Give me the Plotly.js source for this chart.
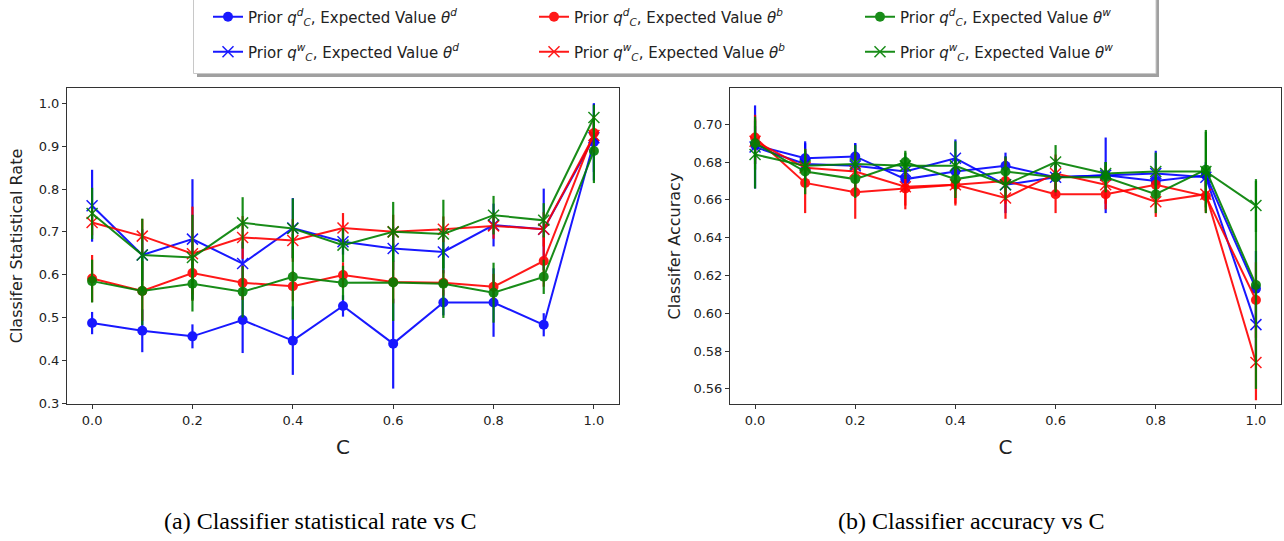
<!DOCTYPE html>
<html>
<head>
<meta charset="utf-8">
<script src="https://cdn.plot.ly/plotly-3.0.1.min.js"></script>
<style>
html,body{margin:0;padding:0;background:#fff;}
#chart{width:1284px;height:541px;}
</style>
</head>
<body>
<div id="chart"></div>
<script>
// ---------- data ----------
const cValues = [0.0, 0.1, 0.2, 0.3, 0.4, 0.5, 0.6, 0.7, 0.8, 0.9, 1.0];

// (a) Classifier statistical rate
const rateBlueDot   = [0.487, 0.469, 0.456, 0.494, 0.446, 0.527, 0.439, 0.535, 0.535, 0.483, 0.910];
const rateBlueDotErr= [0.026, 0.050, 0.028, 0.077, 0.080, 0.025, 0.105, 0.030, 0.080, 0.027, 0.090];
const rateBlueX     = [0.761, 0.646, 0.683, 0.626, 0.709, 0.677, 0.661, 0.653, 0.716, 0.706, 0.920];
const rateBlueXErr  = [0.084, 0.060, 0.140, 0.050, 0.070, 0.030, 0.050, 0.050, 0.050, 0.095, 0.080];
const rateRedDot    = [0.591, 0.562, 0.604, 0.581, 0.573, 0.599, 0.583, 0.581, 0.572, 0.632, 0.931];
const rateRedDotErr = [0.055, 0.070, 0.050, 0.040, 0.035, 0.030, 0.050, 0.030, 0.030, 0.060, 0.040];
const rateRedX      = [0.722, 0.690, 0.649, 0.687, 0.680, 0.709, 0.700, 0.706, 0.714, 0.706, 0.925];
const rateRedXErr   = [0.030, 0.040, 0.110, 0.050, 0.050, 0.035, 0.040, 0.030, 0.030, 0.040, 0.040];
const rateGreenDot  = [0.585, 0.562, 0.579, 0.560, 0.595, 0.581, 0.582, 0.579, 0.558, 0.595, 0.889];
const rateGreenDotErr=[0.050, 0.080, 0.065, 0.060, 0.100, 0.040, 0.090, 0.080, 0.070, 0.040, 0.075];
const rateGreenX    = [0.743, 0.646, 0.640, 0.721, 0.708, 0.669, 0.700, 0.695, 0.739, 0.727, 0.967];
const rateGreenXErr = [0.060, 0.085, 0.100, 0.060, 0.070, 0.040, 0.070, 0.080, 0.045, 0.040, 0.030];

// (b) Classifier accuracy
const accBlueDot    = [0.689, 0.682, 0.683, 0.671, 0.675, 0.678, 0.672, 0.673, 0.670, 0.673, 0.613];
const accBlueDotErr = [0.010, 0.008, 0.007, 0.006, 0.007, 0.007, 0.006, 0.007, 0.006, 0.006, 0.020];
const accBlueX      = [0.688, 0.679, 0.678, 0.675, 0.682, 0.668, 0.672, 0.673, 0.674, 0.672, 0.594];
const accBlueXErr   = [0.022, 0.012, 0.012, 0.008, 0.010, 0.015, 0.010, 0.020, 0.012, 0.008, 0.020];
const accRedDot     = [0.693, 0.669, 0.664, 0.666, 0.668, 0.670, 0.663, 0.663, 0.668, 0.662, 0.607];
const accRedDotErr  = [0.012, 0.016, 0.014, 0.011, 0.011, 0.012, 0.010, 0.008, 0.009, 0.008, 0.020];
const accRedX       = [0.691, 0.677, 0.675, 0.667, 0.668, 0.661, 0.674, 0.668, 0.659, 0.663, 0.574];
const accRedXErr    = [0.012, 0.010, 0.010, 0.010, 0.010, 0.011, 0.010, 0.010, 0.008, 0.010, 0.020];
const accGreenDot   = [0.690, 0.675, 0.671, 0.680, 0.671, 0.675, 0.672, 0.672, 0.663, 0.676, 0.615];
const accGreenDotErr= [0.014, 0.012, 0.010, 0.006, 0.010, 0.008, 0.008, 0.008, 0.010, 0.020, 0.055];
const accGreenX     = [0.684, 0.678, 0.679, 0.678, 0.678, 0.668, 0.680, 0.674, 0.675, 0.675, 0.657];
const accGreenXErr  = [0.018, 0.008, 0.010, 0.007, 0.013, 0.008, 0.009, 0.006, 0.010, 0.022, 0.014];

const seriesNames = [
  "Prior <i>q</i><sup><i>d</i></sup><sub><i>C</i></sub>, Expected Value <i>θ</i><sup><i>d</i></sup>",
  "Prior <i>q</i><sup><i>w</i></sup><sub><i>C</i></sub>, Expected Value <i>θ</i><sup><i>d</i></sup>",
  "Prior <i>q</i><sup><i>d</i></sup><sub><i>C</i></sub>, Expected Value <i>θ</i><sup><i>b</i></sup>",
  "Prior <i>q</i><sup><i>w</i></sup><sub><i>C</i></sub>, Expected Value <i>θ</i><sup><i>b</i></sup>",
  "Prior <i>q</i><sup><i>d</i></sup><sub><i>C</i></sub>, Expected Value <i>θ</i><sup><i>w</i></sup>",
  "Prior <i>q</i><sup><i>w</i></sup><sub><i>C</i></sub>, Expected Value <i>θ</i><sup><i>w</i></sup>"
];
const seriesColors = ["#0000ff", "#0000ff", "#ff0000", "#ff0000", "#008000", "#008000"];
const seriesMarkers = ["circle", "x-thin", "circle", "x-thin", "circle", "x-thin"];
const legendRows = ["legend", "legend2", "legend", "legend2", "legend", "legend2"];
const legendRanks = [1, 1, 2, 2, 3, 3];

const rateData = [rateBlueDot, rateBlueX, rateRedDot, rateRedX, rateGreenDot, rateGreenX];
const rateErr  = [rateBlueDotErr, rateBlueXErr, rateRedDotErr, rateRedXErr, rateGreenDotErr, rateGreenXErr];
const accData  = [accBlueDot, accBlueX, accRedDot, accRedX, accGreenDot, accGreenX];
const accErr   = [accBlueDotErr, accBlueXErr, accRedDotErr, accRedXErr, accGreenDotErr, accGreenXErr];

// ---------- traces ----------
function makeTrace(i, ys, errs, xa, ya, showLegend) {
  const isX = seriesMarkers[i] === "x-thin";
  return {
    type: "scatter", mode: "lines+markers",
    x: cValues, y: ys, xaxis: xa, yaxis: ya,
    name: seriesNames[i], legend: legendRows[i], legendrank: legendRanks[i], showlegend: showLegend,
    line: {color: seriesColors[i], width: 2},
    marker: {symbol: seriesMarkers[i], size: isX ? 11 : 10, color: seriesColors[i],
             line: {color: seriesColors[i], width: isX ? 1.5 : 0}},
    error_y: {type: "data", array: errs, visible: true, color: seriesColors[i], thickness: 2.2, width: 0},
    opacity: 0.9
  };
}
const traces = [];
for (let i = 0; i < 6; i++) traces.push(makeTrace(i, rateData[i], rateErr[i], "x", "y", true));
for (let i = 0; i < 6; i++) traces.push(makeTrace(i, accData[i], accErr[i], "x2", "y2", false));

// ---------- layout ----------
const W = 1284, H = 541;
const px = v => v / W, py = v => 1 - v / H;
const tickFont = {family: "DejaVu Sans", size: 13, color: "#222"};
const axisCommon = {showline: true, mirror: true, linecolor: "#333", linewidth: 1,
  ticks: "outside", ticklen: 4, tickcolor: "#333", showgrid: false, zeroline: false,
  tickfont: tickFont};
const legendCommon = {orientation: "h", xanchor: "left", yanchor: "middle",
  entrywidth: 281, entrywidthmode: "pixels",
  font: {family: "DejaVu Sans", size: 15, color: "#222"},
  bgcolor: "rgba(0,0,0,0)", borderwidth: 0};

const layout = {
  width: W, height: H,
  margin: {l: 0, r: 0, t: 0, b: 0},
  paper_bgcolor: "#fff", plot_bgcolor: "#fff",
  font: {family: "DejaVu Sans", color: "#222"},
  showlegend: true,
  legend: Object.assign({}, legendCommon, {x: px(208), y: py(17)}),
  legend2: Object.assign({}, legendCommon, {x: px(208), y: py(52)}),
  xaxis: Object.assign({}, axisCommon, {domain: [px(67), px(619)], anchor: "y",
    range: [-0.05, 1.05], dtick: 0.2, tick0: 0, tickformat: ".1f",
    title: {text: "C", font: {family: "DejaVu Sans", size: 20, color: "#222"}, standoff: 13}}),
  yaxis: Object.assign({}, axisCommon, {domain: [py(404), py(88)], anchor: "x",
    range: [0.298, 1.036], dtick: 0.1, tick0: 0, tickformat: ".1f",
    title: {text: "Classifer Statistical Rate", font: {family: "DejaVu Sans", size: 16, color: "#222"}, standoff: 12}}),
  xaxis2: Object.assign({}, axisCommon, {domain: [px(730), px(1281)], anchor: "y2",
    range: [-0.05, 1.05], dtick: 0.2, tick0: 0, tickformat: ".1f",
    title: {text: "C", font: {family: "DejaVu Sans", size: 20, color: "#222"}, standoff: 13}}),
  yaxis2: Object.assign({}, axisCommon, {domain: [py(404), py(88)], anchor: "x2",
    range: [0.552, 0.7192], dtick: 0.02, tick0: 0, tickformat: ".2f",
    title: {text: "Classifer Accuracy", font: {family: "DejaVu Sans", size: 16, color: "#222"}, standoff: 8}}),
  shapes: [
    // legend shadow and frame
    {type: "rect", xref: "paper", yref: "paper", x0: px(197), x1: px(1159), y0: py(-3), y1: py(77),
     fillcolor: "#a0a0a0", line: {width: 0}, layer: "below"},
    {type: "rect", xref: "paper", yref: "paper", x0: px(193.5), x1: px(1156), y0: py(-6), y1: py(73.5),
     fillcolor: "#ffffff", line: {width: 1, color: "#c8c8c8"}, layer: "below"}
  ],
  annotations: [
    {text: "(a) Classifier statistical rate vs C", xref: "paper", yref: "paper",
     x: px(320), y: py(521), xanchor: "center", yanchor: "middle", showarrow: false,
     font: {family: "Liberation Serif", size: 24, color: "#000"}},
    {text: "(b) Classifier accuracy vs C", xref: "paper", yref: "paper",
     x: px(971), y: py(521), xanchor: "center", yanchor: "middle", showarrow: false,
     font: {family: "Liberation Serif", size: 24, color: "#000"}}
  ]
};

Plotly.newPlot("chart", traces, layout, {staticPlot: true, displayModeBar: false});
</script>
</body>
</html>
